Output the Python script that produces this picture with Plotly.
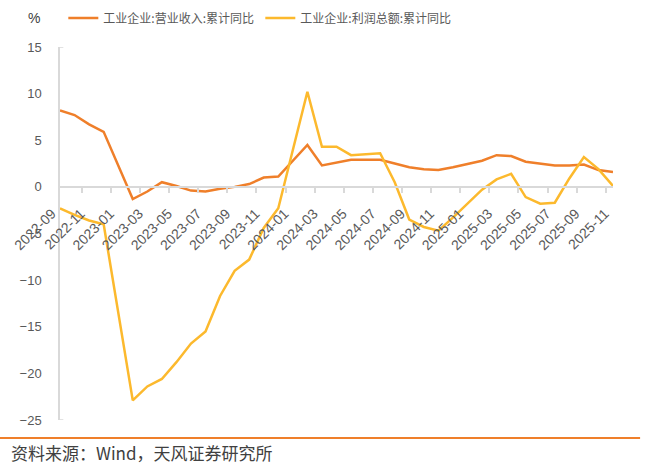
import plotly.graph_objects as go

# Monthly categories (cumulative year-to-date; January is reported jointly with February)
months = [
    "2022-09", "2022-10", "2022-11", "2022-12",
    "2023-01", "2023-02", "2023-03", "2023-04", "2023-05", "2023-06",
    "2023-07", "2023-08", "2023-09", "2023-10", "2023-11", "2023-12",
    "2024-01", "2024-02", "2024-03", "2024-04", "2024-05", "2024-06",
    "2024-07", "2024-08", "2024-09", "2024-10", "2024-11", "2024-12",
    "2025-01", "2025-02", "2025-03", "2025-04", "2025-05", "2025-06",
    "2025-07", "2025-08", "2025-09", "2025-10", "2025-11",
]

# 工业企业:营业收入:累计同比 (%)
revenue_yoy = [
    8.2, 7.7, 6.7, 5.9,
    None, -1.3, -0.5, 0.5, 0.1, -0.4, -0.5, -0.2, 0.0, 0.3, 1.0, 1.1,
    None, 4.5, 2.3, 2.6, 2.9, 2.9, 2.9, 2.5, 2.1, 1.9, 1.8, 2.1,
    None, 2.8, 3.4, 3.3, 2.7, 2.5, 2.3, 2.3, 2.4, 1.8, 1.6,
]

# 工业企业:利润总额:累计同比 (%)
profit_yoy = [
    -2.3, -3.0, -3.6, -4.0,
    None, -22.9, -21.4, -20.6, -18.8, -16.8, -15.5, -11.7, -9.0, -7.8, -4.4, -2.3,
    None, 10.2, 4.3, 4.3, 3.4, 3.5, 3.6, 0.5, -3.5, -4.3, -4.7, -3.3,
    None, -0.3, 0.8, 1.4, -1.1, -1.8, -1.7, 0.9, 3.2, 1.9, 0.1,
]

series_names = ["工业企业:营业收入:累计同比", "工业企业:利润总额:累计同比"]
series_colors = ["#EF7F2A", "#FCB92D"]

y_min, y_max, y_step = -25, 15, 5

FONT = "Liberation Sans, Arial, Noto Sans CJK SC, sans-serif"
CJK_FONT = "Noto Sans CJK SC, Liberation Sans, sans-serif"
TEXT_GREY = "#595959"
AXIS_GREY = "#D9D9D9"

fig = go.Figure()
for name, values, color in zip(series_names, [revenue_yoy, profit_yoy], series_colors):
    fig.add_trace(go.Scatter(
        x=months, y=values, name=name, mode="lines",
        line=dict(color=color, width=2.5),
        connectgaps=True,
    ))

# x axis sits on the zero line of the value axis
zero_frac = (0 - y_min) / (y_max - y_min)

fig.update_layout(
    width=657, height=471,
    margin=dict(l=60, r=44, t=47, b=51, autoexpand=False),
    plot_bgcolor="white", paper_bgcolor="white",
    font=dict(family=FONT, size=13, color=TEXT_GREY),
    showlegend=True,
    legend=dict(
        orientation="h", x=0.006, y=1.078, xanchor="left", yanchor="middle",
        font=dict(family=CJK_FONT, size=12, color=TEXT_GREY),
        entrywidth=152, entrywidthmode="pixels",
        bgcolor="rgba(0,0,0,0)", itemwidth=30,
    ),
    xaxis=dict(
        type="category",
        anchor="free", position=zero_frac,
        showline=True, linecolor=AXIS_GREY, linewidth=1.5,
        showgrid=False, zeroline=False,
        ticks="outside", ticklen=5, tickcolor=AXIS_GREY, tickwidth=1.5,
        tickson="boundaries", dtick=2, tick0=0,
        tickangle=-45, ticklabelstandoff=4,
        # non-breaking padding pulls the rotated labels down-left of their tick
        ticksuffix="\u00a0\u00a0\u00a0",
        tickfont=dict(family=FONT, size=14, color=TEXT_GREY),
    ),
    yaxis=dict(
        range=[y_min, y_max], dtick=y_step, tick0=0,
        showline=True, linecolor=AXIS_GREY, linewidth=1.5,
        showgrid=False, zeroline=False,
        ticks="", ticklabelstandoff=14,
        tickfont=dict(family=FONT, size=13, color=TEXT_GREY),
    ),
)

# short end caps on the value axis
for yv in (y_min, y_max):
    fig.add_shape(type="line", xref="paper", yref="y", x0=0, x1=0.006, y0=yv, y1=yv,
                  line=dict(color=AXIS_GREY, width=1.5))

# unit label
fig.add_annotation(text="%", xref="paper", yref="paper", x=-0.047, y=1.078,
                   xanchor="center", yanchor="middle", showarrow=False,
                   font=dict(family=FONT, size=14, color="#404040"))

# footer rule and source note
fig.add_shape(type="line", xref="paper", yref="paper", x0=-0.1085, x1=1.049,
              y0=-0.048, y1=-0.048, line=dict(color="#EF7F2A", width=2))
fig.add_annotation(text="资料来源：Wind，天风证券研究所", xref="paper", yref="paper",
                   x=-0.092, y=-0.086, xanchor="left", yanchor="middle", showarrow=False,
                   font=dict(family=CJK_FONT, size=17, color="#404040"))

fig.write_html("out.html")
